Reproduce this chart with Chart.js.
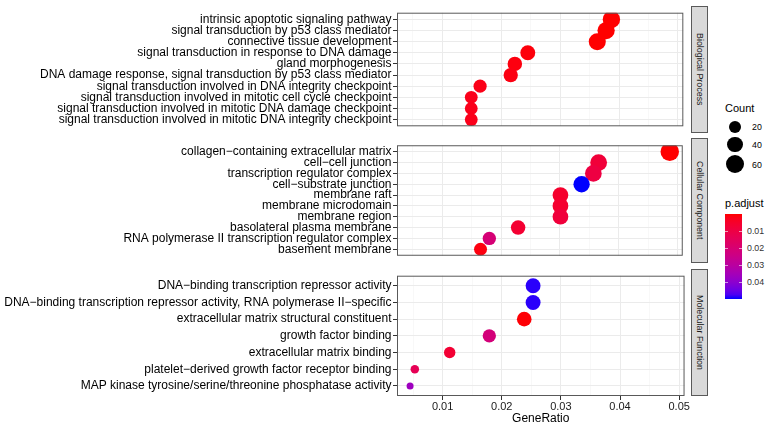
<!DOCTYPE html>
<html>
<head>
<meta charset="utf-8">
<script src="https://cdn.jsdelivr.net/npm/chart.js@4.4.1/dist/chart.umd.min.js"></script>
<style>
body{margin:0;background:#fff;font-family:"Liberation Sans",Arial,sans-serif}
#wrap{position:relative;width:770px;height:429px;overflow:hidden;background:#fff}
.panel{position:absolute;left:0}
.strip{position:absolute;left:691px;width:15px;background:#d9d9d9;border:1px solid #595959;
  display:flex;align-items:center;justify-content:center}
.strip span{writing-mode:vertical-rl;font-size:8.9px;color:#1a1a1a;white-space:nowrap}
.lg{position:absolute;white-space:nowrap;color:#000}
</style>
</head>
<body>
<div id="wrap">
  <div class="panel" id="bp-box"><canvas id="bp"></canvas></div>
  <div class="panel" id="cc-box"><canvas id="cc"></canvas></div>
  <div class="panel" id="mf-box"><canvas id="mf"></canvas></div>
  <div class="strip" style="top:6px;height:125px"><span>Biological Process</span></div>
  <div class="strip" style="top:138px;height:123px"><span>Cellular Component</span></div>
  <div class="strip" style="top:269px;height:125px"><span>Molecular Function</span></div>
  <div id="legend"></div>
</div>
<script>
// ---- data ----
const bpTerms = ["intrinsic apoptotic signaling pathway", "signal transduction by p53 class mediator",
  "connective tissue development", "signal transduction in response to DNA damage", "gland morphogenesis",
  "DNA damage response, signal transduction by p53 class mediator",
  "signal transduction involved in DNA integrity checkpoint",
  "signal transduction involved in mitotic cell cycle checkpoint",
  "signal transduction involved in mitotic DNA damage checkpoint",
  "signal transduction involved in mitotic DNA integrity checkpoint"]
const bpRatio = [0.0387, 0.0378, 0.0363, 0.0245, 0.0223, 0.0216, 0.0164, 0.0149, 0.0149, 0.0149]
const bpCount = [54, 53, 51, 34, 31, 30, 23, 21, 21, 21]
const bpPadj = [0.00002, 0.00004, 0.00005, 0.0009, 0.0012, 0.0015, 0.0021, 0.0026, 0.0026, 0.0026]

const ccTerms = ["collagen\u2212containing extracellular matrix", "cell\u2212cell junction",
  "transcription regulator complex", "cell\u2212substrate junction", "membrane raft", "membrane microdomain",
  "membrane region", "basolateral plasma membrane", "RNA polymerase II transcription regulator complex",
  "basement membrane"]
const ccRatio = [0.0487, 0.0366, 0.0357, 0.0337, 0.0301, 0.0301, 0.0301, 0.0229, 0.0180, 0.0165]
const ccCount = [65, 49, 48, 45, 40, 40, 40, 31, 24, 22]
const ccPadj = [0.0000001, 0.0078, 0.0095, 0.0497, 0.0055, 0.0058, 0.0082, 0.0065, 0.0205, 0.0012]

const mfTerms = ["DNA\u2212binding transcription repressor activity",
  "DNA\u2212binding transcription repressor activity, RNA polymerase II\u2212specific",
  "extracellular matrix structural constituent", "growth factor binding", "extracellular matrix binding",
  "platelet\u2212derived growth factor receptor binding",
  "MAP kinase tyrosine/serine/threonine phosphatase activity"]
const mfRatio = [0.0253, 0.0253, 0.0238, 0.0179, 0.0112, 0.0053, 0.0045]
const mfCount = [34, 34, 32, 24, 15, 7, 6]
const mfPadj = [0.0489, 0.0489, 0.0004, 0.0215, 0.0068, 0.0135, 0.0365]

const xMajor = [0.01, 0.02, 0.03, 0.04, 0.05]
const xMinor = [0.005, 0.015, 0.025, 0.035, 0.045]
const countBreaks = [20, 40, 60]
const padjBreaks = [0.01, 0.02, 0.03, 0.04]

// ---- scales shared by all panels ----
const allRatio = bpRatio.concat(ccRatio, mfRatio)
const allCount = bpCount.concat(ccCount, mfCount)
const allPadj = bpPadj.concat(ccPadj, mfPadj)
const rMin = Math.min(...allRatio), rMax = Math.max(...allRatio)
const xLo = rMin - 0.05 * (rMax - rMin)
const xHi = rMax + 0.05 * (rMax - rMin)
const cMin = Math.min(...allCount), cMax = Math.max(...allCount)
const pMin = Math.min(...allPadj), pMax = Math.max(...allPadj)

// point diameter grows with sqrt of count (like ggplot scale_size)
function radius(c){
    let t = Math.max(0, (c - cMin) / (cMax - cMin))
    return (7 + 11.5 * Math.sqrt(t)) / 2
}

// red -> blue through Lab space
function toLab(rgb){
    let l = rgb.map(v => { v /= 255; return v <= 0.04045 ? v / 12.92 : Math.pow((v + 0.055) / 1.055, 2.4) })
    let X = (0.4124 * l[0] + 0.3576 * l[1] + 0.1805 * l[2]) / 0.95047
    let Y = 0.2126 * l[0] + 0.7152 * l[1] + 0.0722 * l[2]
    let Z = (0.0193 * l[0] + 0.1192 * l[1] + 0.9505 * l[2]) / 1.08883
    let f = t => t > 0.008856 ? Math.cbrt(t) : 7.787 * t + 16 / 116
    return [116 * f(Y) - 16, 500 * (f(X) - f(Y)), 200 * (f(Y) - f(Z))]
}
function fromLab(lab){
    let fy = (lab[0] + 16) / 116, fx = fy + lab[1] / 500, fz = fy - lab[2] / 200
    let inv = t => t * t * t > 0.008856 ? t * t * t : (t - 16 / 116) / 7.787
    let X = inv(fx) * 0.95047, Y = inv(fy), Z = inv(fz) * 1.08883
    let lin = [3.2406 * X - 1.5372 * Y - 0.4986 * Z, -0.9689 * X + 1.8758 * Y + 0.0415 * Z, 0.0557 * X - 0.2040 * Y + 1.0570 * Z]
    let c = lin.map(v => { v = v <= 0.0031308 ? 12.92 * v : 1.055 * Math.pow(v, 1 / 2.4) - 0.055; return Math.round(Math.min(1, Math.max(0, v)) * 255) })
    return 'rgb(' + c.join(',') + ')'
}
const labLow = toLab([255, 0, 0])
const labHigh = toLab([0, 0, 255])
function colour(p){
    let t = (p - pMin) / (pMax - pMin)
    return fromLab(labLow.map((v, i) => v + (labHigh[i] - v) * t))
}

Chart.defaults.font.family = '"Liberation Sans", Arial, sans-serif'

const borderPlugin = {
    id: 'panelBorder',
    afterDraw(chart){
        let a = chart.chartArea, ctx = chart.ctx
        ctx.save()
        ctx.strokeStyle = '#595959'
        ctx.lineWidth = 1
        ctx.strokeRect(a.left + 0.5, a.top + 0.5, a.right - a.left - 1, a.bottom - a.top - 1)
        ctx.restore()
    }
}

function makePanel(id, top, bottom, terms, ratio, count, padj, showX){
    let box = document.getElementById(id + '-box')
    let h = showX ? 429 - (top - 2) : (bottom - top) + 4
    box.style.top = (top - 2) + 'px'
    let cv = document.getElementById(id)
    cv.width = 692
    cv.height = h
    cv.style.width = '692px'
    cv.style.height = h + 'px'

    let xTicks = xMinor.concat(xMajor).sort((a, b) => a - b)

    return new Chart(cv.getContext('2d'), {
        type: 'scatter',
        data: {
            datasets: [{
                data: ratio.map((x, i) => ({x: x, y: i})),
                pointRadius: c => radius(count[c.dataIndex]),
                pointHoverRadius: c => radius(count[c.dataIndex]),
                pointBackgroundColor: c => colour(padj[c.dataIndex]),
                pointBorderWidth: 0
            }]
        },
        options: {
            responsive: false,
            animation: false,
            events: [],
            layout: {padding: {top: 2, bottom: showX ? 0 : 2, left: 0, right: 2}},
            plugins: {legend: {display: false}, tooltip: {enabled: false}},
            scales: {
                x: {
                    type: 'linear',
                    min: xLo,
                    max: xHi,
                    afterBuildTicks: s => { s.ticks = xTicks.map(v => ({value: v})) },
                    afterFit: s => { s.height = showX ? 33 : 0 },
                    border: {display: false},
                    grid: {
                        color: c => xMajor.includes(c.tick.value) ? '#ebebeb' : '#f3f3f3',
                        lineWidth: c => xMajor.includes(c.tick.value) ? 1 : 0.6,
                        drawTicks: showX,
                        tickLength: 4,
                        tickColor: c => xMajor.includes(c.tick.value) ? '#333' : 'rgba(0,0,0,0)'
                    },
                    ticks: {
                        display: showX,
                        autoSkip: false,
                        maxRotation: 0,
                        padding: 0,
                        color: '#1a1a1a',
                        font: {size: 11},
                        callback: v => xMajor.includes(v) ? v.toFixed(2) : ''
                    },
                    title: {display: showX, text: 'GeneRatio', color: '#000', font: {size: 12}, padding: {top: 0, bottom: 3}}
                },
                y: {
                    type: 'linear',
                    reverse: true,
                    min: -0.6,
                    max: terms.length - 0.4,
                    afterBuildTicks: s => { s.ticks = terms.map((t, i) => ({value: i})) },
                    afterFit: s => { s.width = 397 },
                    border: {display: false},
                    grid: {color: '#ebebeb', lineWidth: 1, tickLength: 4, tickColor: '#333'},
                    ticks: {
                        autoSkip: false,
                        padding: 1.5,
                        color: '#000',
                        font: {size: 12},
                        callback: v => terms[v]
                    }
                }
            }
        },
        plugins: [borderPlugin]
    })
}

makePanel('bp', 6, 133, bpTerms, bpRatio, bpCount, bpPadj, false)
makePanel('cc', 138, 263, ccTerms, ccRatio, ccCount, ccPadj, false)
makePanel('mf', 269, 396, mfTerms, mfRatio, mfCount, mfPadj, true)

// ---- legends ----
let lg = document.getElementById('legend')
let html = ''
html += '<div class="lg" style="left:725px;top:100px;height:16px;line-height:16px;font-size:11px">Count</div>'
let keyY = [127, 144.5, 164.5]
for (let i = 0; i < countBreaks.length; i++){
    let r = radius(countBreaks[i])
    html += '<div style="position:absolute;left:' + (735 - r) + 'px;top:' + (keyY[i] - r) + 'px;width:' + (2 * r) +
        'px;height:' + (2 * r) + 'px;border-radius:50%;background:#000"></div>'
    html += '<div class="lg" style="left:752px;top:' + (keyY[i] - 6) + 'px;height:12px;line-height:12px;font-size:8.8px">' + countBreaks[i] + '</div>'
}
html += '<div class="lg" style="left:725px;top:195px;height:16px;line-height:16px;font-size:11px">p.adjust</div>'
let barTop = 214, barH = 85
let stops = []
for (let i = 0; i <= 20; i++){
    stops.push(colour(pMin + (pMax - pMin) * i / 20) + ' ' + (i * 5) + '%')
}
html += '<div style="position:absolute;left:725px;top:' + barTop + 'px;width:17px;height:' + barH +
    'px;background:linear-gradient(to bottom,' + stops.join(',') + ')"></div>'
for (let i = 0; i < padjBreaks.length; i++){
    let y = barTop + (padjBreaks[i] - pMin) / (pMax - pMin) * barH
    html += '<div style="position:absolute;left:725px;top:' + (y - 0.5) + 'px;width:3.4px;height:1px;background:rgba(255,255,255,0.6)"></div>'
    html += '<div style="position:absolute;left:738.6px;top:' + (y - 0.5) + 'px;width:3.4px;height:1px;background:rgba(255,255,255,0.6)"></div>'
    html += '<div class="lg" style="left:747px;top:' + (y - 6) + 'px;height:12px;line-height:12px;font-size:8.8px;color:#333">' + padjBreaks[i].toFixed(2) + '</div>'
}
lg.innerHTML = html
</script>
</body>
</html>
